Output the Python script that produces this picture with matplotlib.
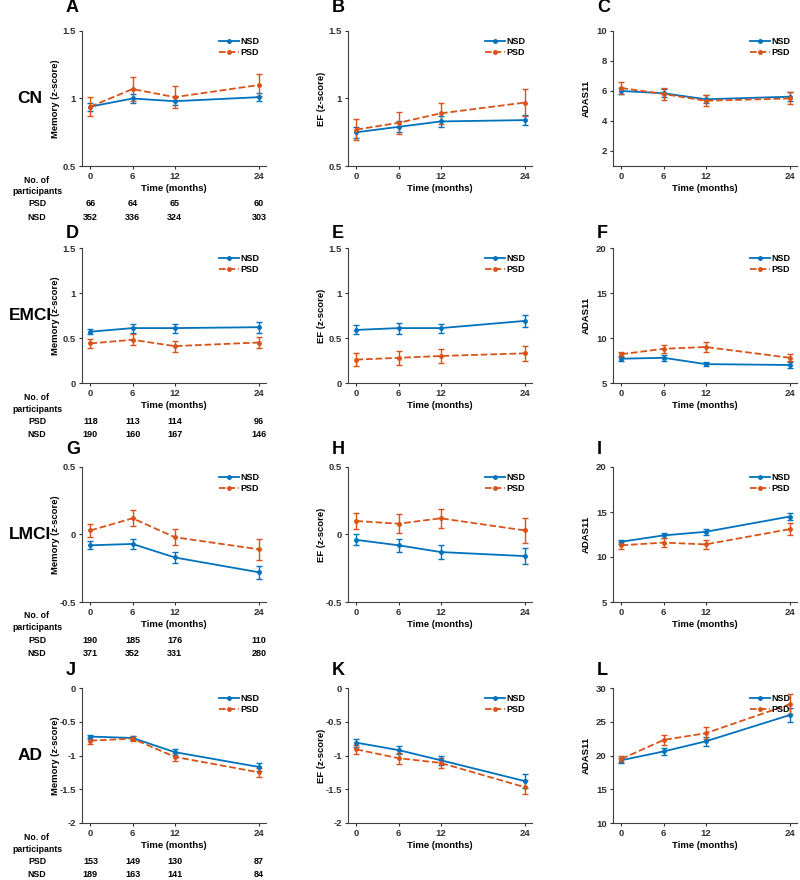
import matplotlib
matplotlib.use('Agg')
import matplotlib.pyplot as plt
import matplotlib.transforms as mtransforms
from matplotlib.lines import Line2D

plt.rcParams['font.family'] = ['Liberation Sans', 'DejaVu Sans']
plt.rcParams['font.weight'] = 'bold'

months = [0, 6, 12, 24]
groups = ['CN', 'EMCI', 'LMCI', 'AD']
letters = ['A', 'B', 'C', 'D', 'E', 'F', 'G', 'H', 'I', 'J', 'K', 'L']
ylabels = ['Memory (z-score)', 'EF (z-score)', 'ADAS11']

# mean values (NSD / PSD) and error bars, per panel
nsd_mean = [
    [0.94, 1.00, 0.98, 1.01], [0.75, 0.79, 0.83, 0.84], [6.0, 5.85, 5.45, 5.62],
    [0.57, 0.61, 0.61, 0.62], [0.59, 0.61, 0.61, 0.69], [7.7, 7.8, 7.1, 7.0],
    [-0.08, -0.07, -0.17, -0.28], [-0.04, -0.08, -0.13, -0.16], [11.7, 12.4, 12.8, 14.5],
    [-0.72, -0.74, -0.95, -1.17], [-0.81, -0.92, -1.07, -1.38], [19.3, 20.6, 22.1, 26.0],
]
nsd_err = [
    [0.03, 0.03, 0.03, 0.03], [0.04, 0.04, 0.04, 0.04], [0.2, 0.25, 0.25, 0.3],
    [0.03, 0.05, 0.05, 0.06], [0.05, 0.06, 0.05, 0.07], [0.3, 0.3, 0.25, 0.3],
    [0.03, 0.04, 0.04, 0.05], [0.04, 0.05, 0.05, 0.06], [0.2, 0.3, 0.3, 0.4],
    [0.03, 0.03, 0.04, 0.06], [0.06, 0.06, 0.07, 0.10], [0.4, 0.5, 0.7, 1.0],
]
psd_mean = [
    [0.94, 1.07, 1.01, 1.10], [0.77, 0.82, 0.89, 0.97], [6.2, 5.8, 5.35, 5.5],
    [0.44, 0.48, 0.41, 0.45], [0.26, 0.28, 0.30, 0.33], [8.2, 8.8, 9.0, 7.8],
    [0.03, 0.12, -0.02, -0.11], [0.10, 0.08, 0.12, 0.03], [11.3, 11.6, 11.4, 13.1],
    [-0.78, -0.75, -1.02, -1.25], [-0.91, -1.04, -1.11, -1.47], [19.5, 22.3, 23.3, 27.6],
]
psd_err = [
    [0.07, 0.09, 0.08, 0.08], [0.08, 0.08, 0.08, 0.10], [0.4, 0.4, 0.35, 0.4],
    [0.05, 0.06, 0.06, 0.06], [0.07, 0.08, 0.08, 0.08], [0.3, 0.45, 0.6, 0.4],
    [0.05, 0.06, 0.06, 0.08], [0.06, 0.07, 0.07, 0.09], [0.4, 0.5, 0.5, 0.7],
    [0.05, 0.04, 0.06, 0.07], [0.07, 0.08, 0.08, 0.10], [0.5, 0.8, 0.9, 1.5],
]
ylims = [(0.5, 1.5), (0.5, 1.5), (1, 10),
         (0, 1.5), (0, 1.5), (5, 20),
         (-0.5, 0.5), (-0.5, 0.5), (5, 20),
         (-2, 0), (-2, 0), (10, 30)]
yticks = [[0.5, 1, 1.5], [0.5, 1, 1.5], [2, 4, 6, 8, 10],
          [0, 0.5, 1, 1.5], [0, 0.5, 1, 1.5], [5, 10, 15, 20],
          [-0.5, 0, 0.5], [-0.5, 0, 0.5], [5, 10, 15, 20],
          [-2, -1.5, -1, -0.5, 0], [-2, -1.5, -1, -0.5, 0], [10, 15, 20, 25, 30]]

# number of participants (PSD, NSD) per group
n_psd = [[66, 64, 65, 60], [118, 113, 114, 96], [190, 185, 176, 110], [153, 149, 130, 87]]
n_nsd = [[352, 336, 324, 303], [190, 160, 167, 146], [371, 352, 331, 280], [189, 163, 141, 84]]

W, H = 800, 880
col_left = [82, 348, 613]
row_top = [31, 248, 467, 688]
letter_y = [8, 233, 449, 670]
aw, ah = 184, 135

blue = '#0072BD'
red = '#D95319'

fig = plt.figure(figsize=(8, 8.8), dpi=100)

handles = [Line2D([], [], color=blue, marker='.', ms=5, lw=1.3),
           Line2D([], [], color=red, marker='.', ms=5, lw=1.3, ls='--')]

for r in range(4):
    for c in range(3):
        i = r * 3 + c
        ax = fig.add_axes([col_left[c] / W, 1 - (row_top[r] + ah) / H, aw / W, ah / H])
        ax.errorbar(months, nsd_mean[i], yerr=nsd_err[i], color=blue, marker='.', ms=5,
                    lw=1.3, capsize=2.5, elinewidth=1, capthick=1)
        ax.errorbar(months, psd_mean[i], yerr=psd_err[i], color=red, marker='.', ms=5,
                    lw=1.3, ls='--', capsize=2.5, elinewidth=1, capthick=1)
        ax.set_xlim(-1.2, 25)
        ax.set_ylim(*ylims[i])
        ax.set_xticks(months)
        ax.set_yticks(yticks[i])
        ax.set_yticklabels(['%g' % v for v in yticks[i]])
        ax.spines['top'].set_visible(False)
        ax.spines['right'].set_visible(False)
        for s in ['left', 'bottom']:
            ax.spines[s].set_color('#404040')
        ax.tick_params(labelsize=6.8, length=2.5, width=0.8, colors='#303030', pad=2)
        ax.set_ylabel(ylabels[c], fontsize=6.8, fontweight='bold')
        ax.yaxis.set_label_coords(-0.12, 0.5)
        ax.set_xlabel('Time (months)', fontsize=6.8, fontweight='bold', labelpad=2)
        ax.legend(handles, ['NSD', 'PSD'], loc='upper right', frameon=False, fontsize=6.5,
                  handlelength=2.2, handletextpad=0.2, labelspacing=0.2, borderaxespad=0.3)
        fig.text((col_left[c] - 16) / W, 1 - letter_y[r] / H, letters[i],
                 fontsize=13, fontweight='bold', ha='left', va='center')

        if c == 0:
            fig.text(30 / W, 1 - (row_top[r] + ah * 0.5) / H, groups[r], fontsize=12.5,
                     fontweight='bold', ha='center', va='center')
            base = row_top[r] + ah
            rows = [('No. of', 14), ('participants', 26), ('PSD', 38), ('NSD', 51)]
            for txt, dy in rows:
                fig.text(37 / W, 1 - (base + dy) / H, txt, fontsize=6.3,
                         fontweight='bold', ha='center', va='center')
            trans = mtransforms.blended_transform_factory(ax.transData, fig.transFigure)
            for k, m in enumerate(months):
                ax.text(m, 1 - (base + 38) / H, str(n_psd[r][k]), transform=trans,
                        fontsize=6.5, fontweight='bold', ha='center', va='center')
                ax.text(m, 1 - (base + 51) / H, str(n_nsd[r][k]), transform=trans,
                        fontsize=6.5, fontweight='bold', ha='center', va='center')

fig.savefig('out.png', dpi=100)
